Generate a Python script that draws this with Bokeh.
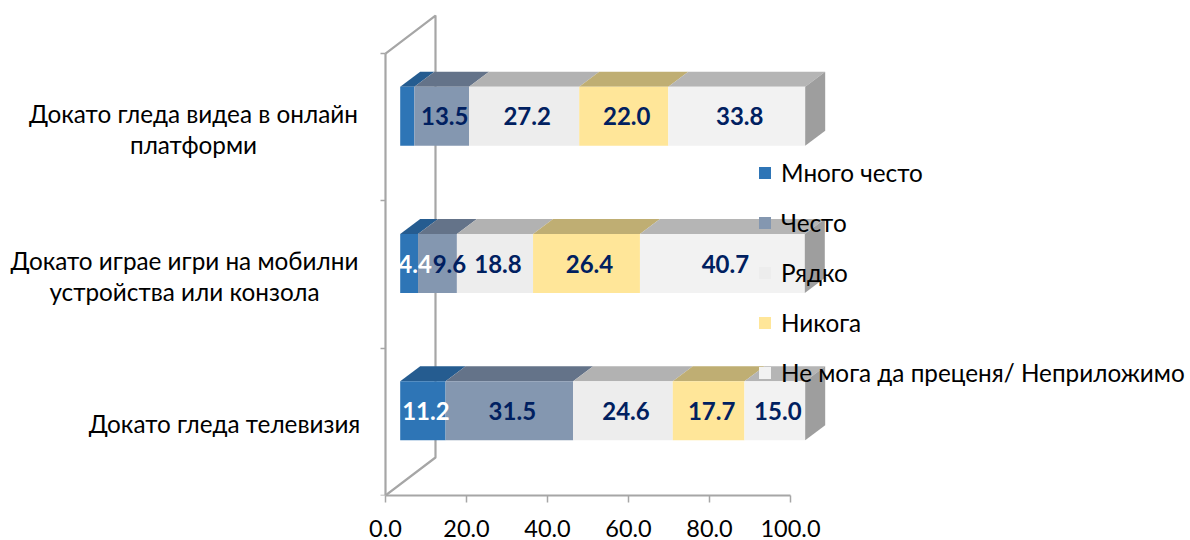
from bokeh.plotting import figure
from bokeh.models import Label, Legend, LegendItem, Range1d, FixedTicker
from bokeh.embed import file_html
from bokeh.resources import INLINE

FONT = "Lato"
FS = "24.3px"
FS_VAL = "24px"
FS_TICK = "23.5px"

categories = ["Докато гледа телевизия",
              "Докато играе игри на мобилни устройства или конзола",
              "Докато гледа видеа в онлайн платформи"]
category_lines = [["Докато гледа телевизия"],
                  ["Докато играе игри на мобилни", "устройства или конзола"],
                  ["Докато гледа видеа в онлайн", "платформи"]]
category_centres_px = [224, 184, 193]

series_names = ["Много често", "Често", "Рядко", "Никога", "Не мога да преценя/ Неприложимо"]
mnogo_chesto = [11.2, 4.4, 3.5]
chesto = [31.5, 9.6, 13.5]
ryadko = [24.6, 18.8, 27.2]
nikoga = [17.7, 26.4, 22.0]
ne_moga = [15.0, 40.7, 33.8]
series_values = [mnogo_chesto, chesto, ryadko, nikoga, ne_moga]
hidden_labels = {(0, 2)}
label_nudges = {(0, 1): 3, (1, 1): 9}

front_colors = ["#2e75b6", "#8497b0", "#ededed", "#ffe699", "#f2f2f2"]
top_colors = ["#255c90", "#647389", "#b2b2b2", "#bfae73", "#b5b5b5"]
side_color = "#9e9e9e"
wall_color = "#a6a6a6"
text_color = "#002060"

PX_X = 4.05
PX_Y = 147.33
FRONT_DX, FRONT_DY = 14.7 / PX_X, 11.0 / PX_Y
DEPTH_DX, DEPTH_DY = 20 / PX_X, 15 / PX_Y
WALL_DX, WALL_DY = 50 / PX_X, 38 / PX_Y
BAR_H = 0.4

W, H = 1190, 540
X0_PX = 385
F_B = 495

p = figure(width=W, height=H, output_backend="svg", toolbar_location=None,
           x_range=Range1d(-X0_PX / PX_X, (W - X0_PX) / PX_X),
           y_range=Range1d(0, F_B / PX_Y),
           min_border_left=0, min_border_right=0, min_border_top=0,
           min_border_bottom=H - F_B, tools="")
p.outline_line_color = None
p.grid.visible = False
p.background_fill_color = "white"

p.xaxis.bounds = (0, 100)
p.xaxis.ticker = FixedTicker(ticks=[0, 20, 40, 60, 80, 100])
p.xaxis.major_label_overrides = {t: f"{t:.1f}" for t in [0, 20, 40, 60, 80, 100]}
p.xaxis.major_tick_in = 0
p.xaxis.major_tick_out = 7
p.xaxis.minor_tick_line_color = None
p.xaxis.axis_line_color = wall_color
p.xaxis.axis_line_width = 2.2
p.xaxis.major_tick_line_color = wall_color
p.xaxis.major_tick_line_width = 1.5
p.xaxis.major_label_text_font = FONT
p.xaxis.major_label_text_font_size = FS_TICK
p.xaxis.major_label_text_color = "black"
p.xaxis.major_label_standoff = 17

p.yaxis.fixed_location = 0
p.yaxis.bounds = (0, 3)
p.yaxis.ticker = FixedTicker(ticks=[0, 1, 2, 3])
p.yaxis.major_label_overrides = {t: "" for t in [0, 1, 2, 3]}
p.yaxis.major_tick_in = 0
p.yaxis.major_tick_out = 5
p.yaxis.minor_tick_line_color = None
p.yaxis.axis_line_color = wall_color
p.yaxis.axis_line_width = 2.2
p.yaxis.major_tick_line_color = wall_color
p.yaxis.major_tick_line_width = 1.5

p.line([0, WALL_DX, WALL_DX, 0], [0, WALL_DY, 3 + WALL_DY, 3],
       line_color=wall_color, line_width=2.2)

legend_items = []
n_cat = len(categories)
for s, (name, vals) in enumerate(zip(series_names, series_values)):
    lefts, rights, bottoms, tops, tx, ty = [], [], [], [], [], []
    for c in range(n_cat):
        start = sum(series_values[k][c] for k in range(s)) + FRONT_DX
        end = start + vals[c]
        yc = c + 0.5 + FRONT_DY
        lefts.append(start); rights.append(end)
        bottoms.append(yc - BAR_H / 2); tops.append(yc + BAR_H / 2)
        tx.append([start, end, end + DEPTH_DX, start + DEPTH_DX])
        ty.append([yc + BAR_H / 2] * 2 + [yc + BAR_H / 2 + DEPTH_DY] * 2)
    p.patches(tx, ty, fill_color=top_colors[s], line_color=None)
    r = p.quad(left=lefts, right=rights, bottom=bottoms, top=tops,
               fill_color=front_colors[s], line_color=None)
    legend_items.append(LegendItem(label=name, renderers=[r]))

sx, sy = [], []
for c in range(n_cat):
    end = sum(series_values[k][c] for k in range(len(series_values))) + FRONT_DX
    yc = c + 0.5 + FRONT_DY
    sx.append([end, end + DEPTH_DX, end + DEPTH_DX, end])
    sy.append([yc - BAR_H / 2, yc - BAR_H / 2 + DEPTH_DY, yc + BAR_H / 2 + DEPTH_DY, yc + BAR_H / 2])
p.patches(sx, sy, fill_color=side_color, line_color=None)

for s, vals in enumerate(series_values):
    for c in range(n_cat):
        if (s, c) in hidden_labels:
            continue
        start = sum(series_values[k][c] for k in range(s)) + FRONT_DX
        p.add_layout(Label(x=start + vals[c] / 2, y=c + 0.5 + FRONT_DY,
                           x_offset=3 + label_nudges.get((s, c), 0),
                           text=f"{vals[c]:.1f}", text_font=FONT,
                           text_font_size=FS_VAL, text_font_style="bold",
                           text_align="center", text_baseline="middle",
                           text_color="white" if s == 0 else text_color))

LINE_H = 31
for c, lines in enumerate(category_lines):
    n = len(lines)
    for i, line in enumerate(lines):
        p.add_layout(Label(x=(category_centres_px[c] - X0_PX) / PX_X, y=c + 0.5,
                           y_offset=(n - 1) / 2 * LINE_H - i * LINE_H - 1.5,
                           text=line, text_font=FONT, text_font_size=FS,
                           text_align="center", text_baseline="middle",
                           text_color="black"))

legend = Legend(items=legend_items, location=(757, 108), orientation="vertical",
                background_fill_alpha=0, border_line_color=None,
                glyph_width=15, glyph_height=15, label_height=24, spacing=21,
                padding=0, margin=0, label_standoff=9,
                label_text_font=FONT, label_text_font_size=FS, label_text_color="black")
p.add_layout(legend, "center")

open("out.html", "w").write(file_html(p, INLINE))
